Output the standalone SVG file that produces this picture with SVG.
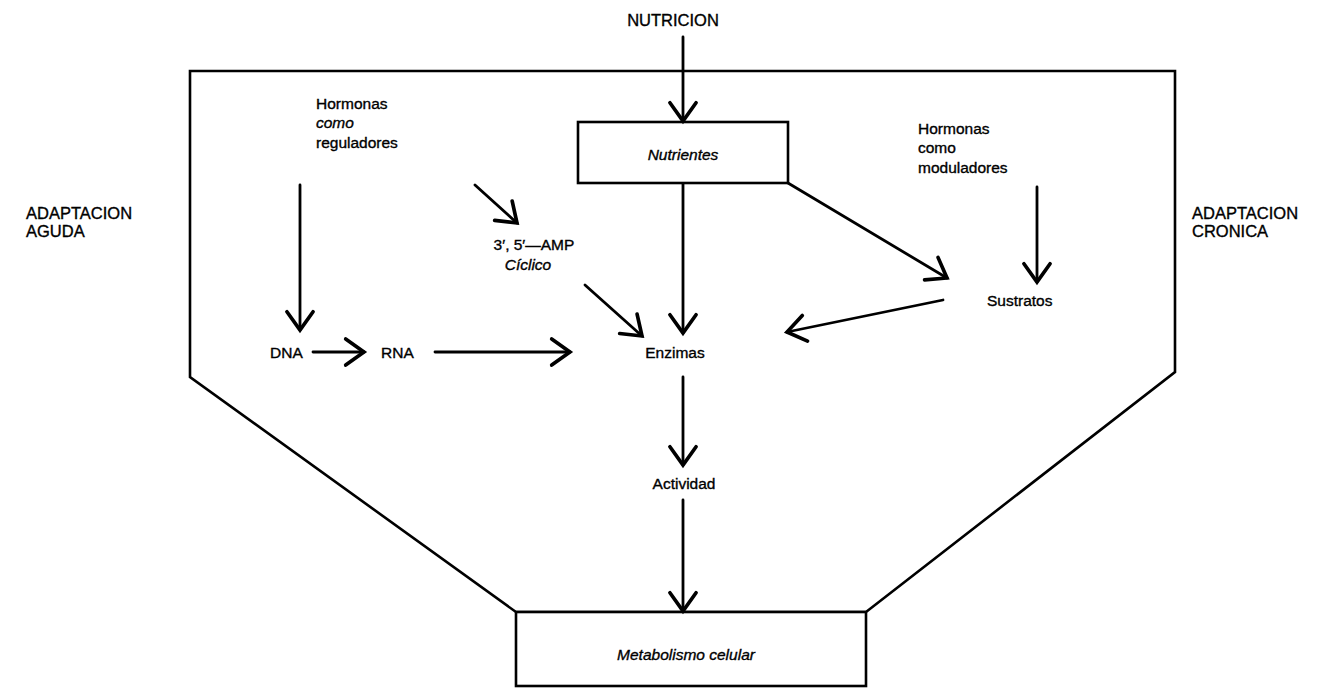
<svg xmlns="http://www.w3.org/2000/svg" width="1323" height="689" viewBox="0 0 1323 689">
<style>
  .frame { fill: none; stroke: #000; stroke-width: 2.6; stroke-linejoin: miter; }
  .box { fill: #fff; stroke: #000; stroke-width: 2.6; }
  .conn { fill: none; stroke: #000; stroke-width: 2.8; stroke-linecap: round; marker-end: url(#arr); }
  text { font-family: "Liberation Sans", Arial, sans-serif; fill: #000; stroke: #000; stroke-width: 0.35; }
  .cap { font-size: 16.5px; }
  .lbl { font-size: 15.5px; }
  .it { font-style: italic; }
  .mid { text-anchor: middle; }
</style>
<defs>
  <marker id="arr" markerUnits="userSpaceOnUse" markerWidth="34" markerHeight="34" viewBox="-17 -13 21 26" refX="0" refY="0" orient="auto">
    <path d="M-14,-10 L0,0 L-14,10" fill="none" stroke="#000" stroke-width="2.8" stroke-linecap="round" stroke-linejoin="miter"/>
  </marker>
</defs>

<g id="frame">
  <polygon class="frame" points="190,71 1175,71 1175,372 866,612 516,612 190,377"/>
</g>

<g id="metabolismo">
  <rect class="box" x="516" y="612" width="350" height="74"/>
  <text class="lbl it mid" x="686" y="660">Metabolismo celular</text>
</g>

<g id="nutrientes">
  <rect class="box" x="578" y="122" width="210" height="61"/>
  <text class="lbl it mid" x="683" y="160">Nutrientes</text>
</g>

<g id="nutricion"><text class="cap mid" x="673" y="26">NUTRICION</text></g>
<g id="adaptacion-aguda">
  <text class="cap" x="26" y="219">ADAPTACION</text>
  <text class="cap" x="26" y="237">AGUDA</text>
</g>
<g id="adaptacion-cronica">
  <text class="cap" x="1192" y="219">ADAPTACION</text>
  <text class="cap" x="1192" y="237">CRONICA</text>
</g>
<g id="hormonas-reguladores">
  <text class="lbl" x="316" y="109">Hormonas</text>
  <text class="lbl it" x="316" y="128">como</text>
  <text class="lbl" x="316" y="148">reguladores</text>
</g>
<g id="hormonas-moduladores">
  <text class="lbl" x="918" y="134">Hormonas</text>
  <text class="lbl" x="918" y="153">como</text>
  <text class="lbl" x="918" y="173">moduladores</text>
</g>
<g id="amp">
  <text class="lbl mid" x="534" y="250">3′, 5′—AMP</text>
  <text class="lbl it mid" x="528" y="270">Cíclico</text>
</g>
<g id="dna"><text class="lbl" x="270" y="358">DNA</text></g>
<g id="rna"><text class="lbl" x="381" y="358">RNA</text></g>
<g id="enzimas"><text class="lbl mid" x="675" y="358">Enzimas</text></g>
<g id="actividad"><text class="lbl mid" x="684" y="489">Actividad</text></g>
<g id="sustratos"><text class="lbl" x="987" y="306">Sustratos</text></g>

<g id="connectors">
  <line class="conn" x1="683" y1="37" x2="683" y2="121"/>
  <line class="conn" x1="300" y1="185" x2="300" y2="330"/>
  <line class="conn" x1="475" y1="185" x2="517" y2="223"/>
  <line class="conn" x1="585" y1="285" x2="642" y2="336"/>
  <line class="conn" x1="683" y1="184" x2="683" y2="333"/>
  <line class="conn" x1="313" y1="352" x2="364" y2="352"/>
  <line class="conn" x1="435" y1="352" x2="570" y2="352"/>
  <line class="conn" x1="683" y1="377" x2="683" y2="465"/>
  <line class="conn" x1="683" y1="500" x2="683" y2="611"/>
  <line class="conn" x1="788" y1="183" x2="947" y2="278"/>
  <line class="conn" x1="1037" y1="187" x2="1037" y2="282"/>
  <line class="conn" x1="943" y1="300" x2="787" y2="332"/>
</g>
</svg>
